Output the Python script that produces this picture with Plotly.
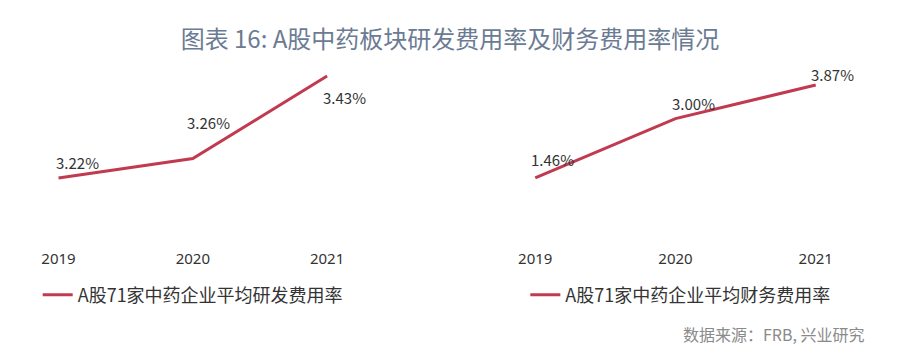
import plotly.graph_objects as go

years = [2019, 2020, 2021]
year_labels = ["2019", "2020", "2021"]
rd_rate = [3.22, 3.26, 3.43]
fin_rate = [1.46, 3.00, 3.87]
rd_name = "A股71家中药企业平均研发费用率"
fin_name = "A股71家中药企业平均财务费用率"
title_text = "图表 16: A股中药板块研发费用率及财务费用率情况"
source_text = "数据来源：FRB, 兴业研究"

LINE = "#c13a50"
CJK = "Noto Sans CJK SC"

fig = go.Figure()
fig.add_trace(go.Scatter(x=years, y=rd_rate, mode="lines", name=rd_name,
                         line=dict(color=LINE, width=3), xaxis="x", yaxis="y",
                         legend="legend", hoverinfo="skip"))
fig.add_trace(go.Scatter(x=years, y=fin_rate, mode="lines", name=fin_name,
                         line=dict(color=LINE, width=3), xaxis="x2", yaxis="y2",
                         legend="legend2", hoverinfo="skip"))

# data labels
shifts_l = [(19, 15), (16, 36), (17, -22)]
shifts_r = [(17, 18), (18, 15), (17, 10)]
ann = []
for x, v, (dx, dy) in zip(years, rd_rate, shifts_l):
    ann.append(dict(x=x, y=v, xref="x", yref="y", text=f"{v:.2f}%", showarrow=False,
                    xshift=dx, yshift=dy, font=dict(family=CJK, size=15, color="#333333")))
for x, v, (dx, dy) in zip(years, fin_rate, shifts_r):
    ann.append(dict(x=x, y=v, xref="x2", yref="y2", text=f"{v:.2f}%", showarrow=False,
                    xshift=dx, yshift=dy, font=dict(family=CJK, size=15, color="#333333")))
ann.append(dict(x=871/900, y=1-334/356, xref="paper", yref="paper", text=source_text,
                showarrow=False, xanchor="right", yanchor="middle",
                font=dict(family=CJK, size=16, color="#8a8a8a")))

ydom = [(356-240)/356, (356-42)/356]
axis_common = dict(showgrid=False, zeroline=False, showline=False, ticks="",
                   ticklabelstandoff=8,
                   tickfont=dict(family="Noto Sans", size=15, color="#333333"))

fig.update_layout(
    width=900, height=356,
    margin=dict(l=0, r=0, t=0, b=0),
    paper_bgcolor="white", plot_bgcolor="white",
    title=dict(text=title_text, x=0.5, xanchor="center", y=1-40/356, yanchor="middle",
               font=dict(family=CJK, size=24, color="#6b7b93", weight="normal")),
    xaxis=dict(domain=[41.45/900, 339.55/900], range=[2018.9, 2021.1],
               tickvals=years, ticktext=year_labels, anchor="y", **axis_common),
    yaxis=dict(domain=ydom, range=[3.0923, 3.50], showticklabels=False,
               anchor="x", showgrid=False, zeroline=False, showline=False),
    xaxis2=dict(domain=[521.85/900, 833.15/900], range=[2018.9, 2021.1],
                tickvals=years, ticktext=year_labels, anchor="y2", **axis_common),
    yaxis2=dict(domain=ydom, range=[-0.147, 4.984], showticklabels=False,
                anchor="x2", showgrid=False, zeroline=False, showline=False),
    legend=dict(x=34/900, y=1-295/356, xanchor="left", yanchor="middle",
                bgcolor="rgba(0,0,0,0)", font=dict(family=CJK, size=18, color="#333333")),
    legend2=dict(x=526/900, y=1-295/356, xanchor="left", yanchor="middle",
                 bgcolor="rgba(0,0,0,0)", font=dict(family=CJK, size=18, color="#333333")),
    annotations=ann,
    showlegend=True,
)

fig.write_html("out.html", config={"displayModeBar": False},
               post_script="document.body.style.margin='0px';")
